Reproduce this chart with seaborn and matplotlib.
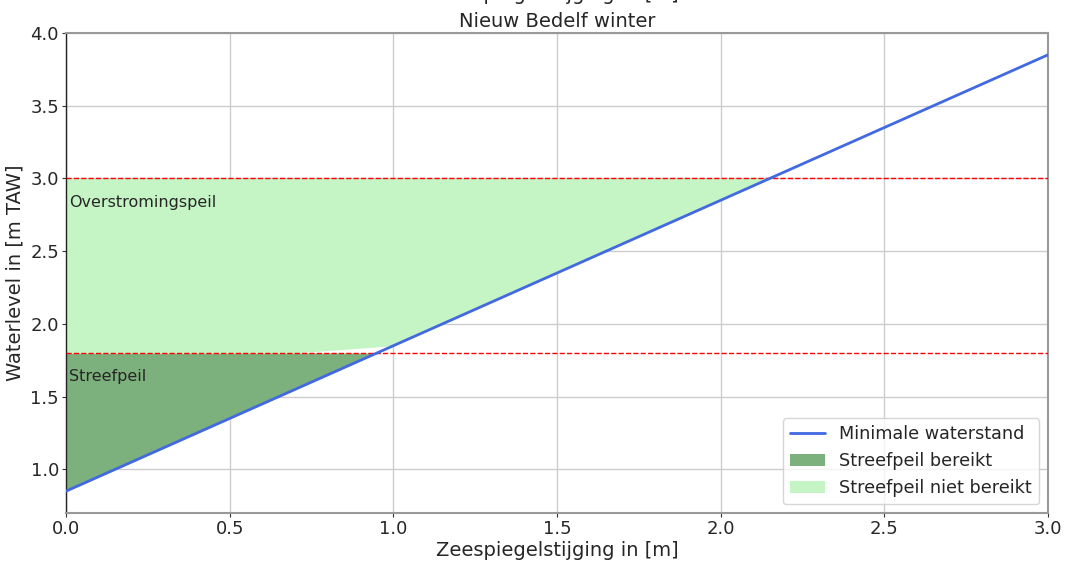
import numpy as np
import matplotlib
matplotlib.use("Agg")
import matplotlib.pyplot as plt
import seaborn as sns

# Data
zeespiegelstijging = [0.0, 0.1, 0.4, 0.7, 1.0, 1.3, 1.6, 1.9, 2.2, 2.5, 2.8, 3.0]
minimale_waterstand = [0.85, 0.95, 1.25, 1.55, 1.85, 2.15, 2.45, 2.75, 3.05, 3.35, 3.65, 3.85]
streefpeil = 1.8
overstromingspeil = 3.0
titel_boven = "Zeespiegelstijging in [m]"
titel = "Nieuw Bedelf winter"

sns.set_style("whitegrid")
plt.rcParams['font.family'] = ['DejaVu Sans']

x = np.array(zeespiegelstijging)
y = np.array(minimale_waterstand)

fig = plt.figure(figsize=(10.65, 5.61), dpi=100)
ax = fig.add_axes([66/1065, 1 - 513/561, (1048-66)/1065, (513-33)/561])

sns.lineplot(x=x, y=y, ax=ax, color="#4169E1", linewidth=2, label="Minimale waterstand", zorder=4)
ax.fill_between(x, y, streefpeil, where=y <= streefpeil, interpolate=True,
                color="#7CB07C", label="Streefpeil bereikt", zorder=2, linewidth=0)
ax.fill_between(x, np.maximum(y, streefpeil), overstromingspeil, where=y <= overstromingspeil,
                interpolate=True, color="#C5F5C5", label="Streefpeil niet bereikt", zorder=2, linewidth=0)
ax.axhline(streefpeil, color="red", linestyle="--", linewidth=1, zorder=3)
ax.axhline(overstromingspeil, color="red", linestyle="--", linewidth=1, zorder=3)

ax.text(0.01, overstromingspeil - 0.165, "Overstromingspeil", fontsize=11.5, va="center", ha="left", zorder=5)
ax.text(0.01, streefpeil - 0.165, "Streefpeil", fontsize=11.5, va="center", ha="left", zorder=5)

ax.set_xlim(0, 3.0)
ax.set_ylim(0.7, 4.0)
ax.set_xticks(np.arange(0, 3.01, 0.5))
ax.set_yticks(np.arange(1.0, 4.01, 0.5))
ax.tick_params(axis="both", labelsize=13, length=3, pad=2, color="#333333", left=True, bottom=True)
ax.set_xlabel("Zeespiegelstijging in [m]", fontsize=14, labelpad=2)
ax.set_ylabel("Waterlevel in [m TAW]", fontsize=14, labelpad=4)
ax.set_title(titel, fontsize=14, pad=4)
fig.text(0.5 * (66 + 1048) / 1065, 1 - 0.5 / 561, titel_boven, fontsize=14, ha="center", va="baseline")
ax.grid(True, color="#CCCCCC", linewidth=1)

for s in ["top", "right", "bottom"]:
    ax.spines[s].set_color("#999999")
    ax.spines[s].set_linewidth(1.5)
ax.spines["left"].set_color("#222222")
ax.spines["left"].set_linewidth(1)

ax.legend(loc="lower right", fontsize=12.7, frameon=True, borderpad=0.4, handlelength=2)

fig.savefig("out.png", dpi=100)
